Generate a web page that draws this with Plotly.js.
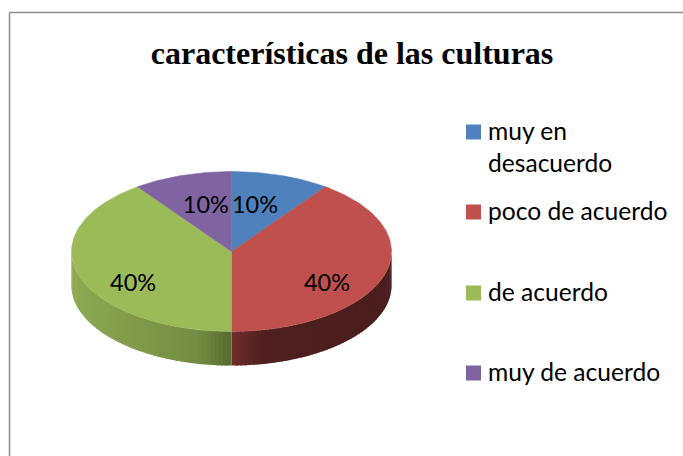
<!DOCTYPE html>
<html><head><meta charset="utf-8">
<script src="https://cdn.plot.ly/plotly-3.0.1.min.js"></script>
<style>html,body{margin:0;padding:0;background:#fff}#c{width:683px;height:456px}</style>
</head><body><div id="c"></div>
<script>
const categories = ['muy en<br>desacuerdo', 'poco de acuerdo', 'de acuerdo', 'muy de acuerdo'];
const values = [10, 40, 40, 10];
const colors = ['#4F81BD', '#C0504D', '#9BBB59', '#8064A2'];

// side-wall shading: colour at the outer edge and at the front centre of the wall
const wallOuter = [null, [74, 30, 30], [142, 170, 82], null];
const wallMid = [null, [78, 31, 31], [116, 139, 66], null];
const wallInner = [null, [112, 45, 44], [86, 106, 48], null];

// geometry of the tilted disc (1 unit = horizontal radius on x, vertical radius on y)
const W = 683, H = 456, cxPx = 231.5, cyPx = 251.5, rxPx = 160, ryPx = 80;
const depth = 34 / ryPx;
// label anchors (unit coordinates on the disc)
const labelX = [0.147, 0.597, -0.615, -0.16];
const labelY = [0.56, -0.425, -0.425, 0.56];
// legend rows: pixel y of each swatch centre
const legendRowY = [132, 212, 293, 373];
const legendSwatchX = 473.5, legendTextX = 487;

const total = values.reduce((a, b) => a + b, 0);
const rad = d => d * Math.PI / 180;
const px = a => Math.sin(rad(a));
const py = a => Math.cos(rad(a));
const bounds = [0];
values.forEach(v => bounds.push(bounds[bounds.length - 1] + v / total * 360));

const traces = [];
const mix = (a, b, t) => a.map((v, i) => Math.round(v + (b[i] - v) * t));
const rgb = c => `rgb(${c[0]},${c[1]},${c[2]})`;
const toX = p => (p - cxPx) / rxPx;
const toY = p => (cyPx - p) / ryPx;

// walls: only the front half of the disc (90 to 270 degrees) is visible
values.forEach((v, i) => {
  const from = Math.max(bounds[i], 90), to = Math.min(bounds[i + 1], 270);
  if (from >= to) return;
  const step = 1.5, overlap = 1;
  // paint from the outer edge towards the front centre so each strip covers the last seam
  const starts = [];
  for (let a = from; a < to - 1e-6; a += step) starts.push(a);
  if (from < 180) starts.reverse();
  starts.forEach(a => {
    const b = Math.min(a + step, to);
    const t = Math.abs(px((a + b) / 2));
    const col = t < 0.2 ? mix(wallInner[i], wallMid[i], t / 0.2)
                        : mix(wallMid[i], wallOuter[i], (t - 0.2) / 0.8);
    const lo = from < 180 ? Math.max(a - overlap, from) : a;
    const hi = from < 180 ? b : Math.min(b + overlap, to);
    const xs = [], ys = [];
    for (let k = 0; k <= 4; k++) { const q = lo + (hi - lo) * k / 4; xs.push(px(q)); ys.push(py(q)); }
    for (let k = 4; k >= 0; k--) { const q = lo + (hi - lo) * k / 4; xs.push(px(q)); ys.push(py(q) - depth); }
    traces.push({
      type: 'scatter', mode: 'lines', fill: 'toself', fillcolor: rgb(col),
      line: {width: 0}, showlegend: false, hoverinfo: 'skip', x: xs, y: ys
    });
  });
});

// top faces
values.forEach((v, i) => {
  const x = [0], y = [0];
  for (let a = bounds[i]; a < bounds[i + 1]; a += 1) { x.push(px(a)); y.push(py(a)); }
  x.push(px(bounds[i + 1]), 0); y.push(py(bounds[i + 1]), 0);
  traces.push({
    type: 'scatter', mode: 'lines', fill: 'toself', fillcolor: colors[i],
    line: {color: colors[i], width: 0.5}, showlegend: false, hoverinfo: 'skip', x, y
  });
});

// percentage labels
traces.push({
  type: 'scatter', mode: 'text', x: labelX, y: labelY,
  text: values.map(v => Math.round(v / total * 100) + '%'),
  textposition: 'middle center', showlegend: false, hoverinfo: 'skip',
  textfont: {family: 'Lato, Carlito, sans-serif', size: 23.5, color: '#000'}
});

// legend swatches
traces.push({
  type: 'scatter', mode: 'markers', showlegend: false, hoverinfo: 'skip',
  x: legendRowY.map(() => toX(legendSwatchX)), y: legendRowY.map(toY),
  marker: {symbol: 'square', size: 15, color: colors, line: {width: 0}}
});

const layout = {
  width: W, height: H, margin: {l: 0, r: 0, t: 0, b: 0},
  paper_bgcolor: '#fff', plot_bgcolor: '#fff', hovermode: false, showlegend: false,
  title: {text: '<b>características de las culturas</b>', x: 352 / W, xanchor: 'center',
          y: 1 - 53 / H, yanchor: 'middle',
          font: {family: 'Liberation Serif, serif', size: 32, color: '#000'}},
  xaxis: {visible: false, range: [toX(0), toX(W)], fixedrange: true},
  yaxis: {visible: false, range: [toY(H), toY(0)], fixedrange: true},
  annotations: categories.map((c, i) => ({
    xref: 'paper', yref: 'paper', x: legendTextX / W, y: 1 - (legendRowY[i] - 17) / H,
    xanchor: 'left', yanchor: 'top', align: 'left', showarrow: false, text: c, borderpad: 0,
    font: {family: 'Lato, Carlito, sans-serif', size: 24.6, color: '#000'}
  })),
  shapes: [
    {type: 'line', xref: 'paper', yref: 'paper', x0: 9.5 / W, x1: 9.5 / W, y0: 0, y1: 1 - 12.5 / H,
     line: {color: '#8c8c8c', width: 1.5}},
    {type: 'line', xref: 'paper', yref: 'paper', x0: 9.5 / W, x1: 1, y0: 1 - 12.5 / H, y1: 1 - 12.5 / H,
     line: {color: '#8c8c8c', width: 1.5}}
  ]
};
Plotly.newPlot('c', traces, layout, {displayModeBar: false, staticPlot: true});
</script></body></html>
